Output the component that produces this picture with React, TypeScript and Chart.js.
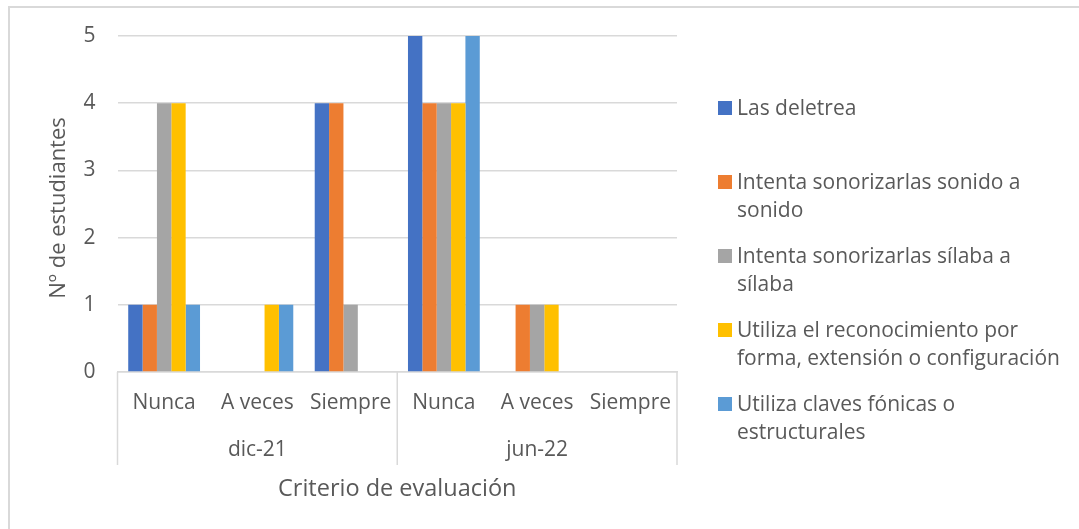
import React, { useEffect, useRef } from "react";
import { Chart, registerables } from "chart.js";

Chart.register(...registerables);

// ---- data ----
const groups = ["dic-21", "jun-22"];
const categories = ["Nunca", "A veces", "Siempre", "Nunca", "A veces", "Siempre"];
const seriesLabels = [
  "Las deletrea",
  "Intenta sonorizarlas sonido a sonido",
  "Intenta sonorizarlas sílaba a sílaba",
  "Utiliza el reconocimiento por forma, extensión o configuración",
  "Utiliza claves fónicas o estructurales",
];
const legendLines = [
  ["Las deletrea"],
  ["Intenta sonorizarlas sonido a", "sonido"],
  ["Intenta sonorizarlas sílaba a", "sílaba"],
  ["Utiliza el reconocimiento por", "forma, extensión o configuración"],
  ["Utiliza claves fónicas o", "estructurales"],
];
const lasDeletrea = [1, 0, 4, 5, 0, 0];
const sonidoASonido = [1, 0, 4, 4, 1, 0];
const silabaASilaba = [4, 0, 1, 4, 1, 0];
const reconocimientoForma = [4, 1, 0, 4, 1, 0];
const clavesFonicas = [1, 1, 0, 5, 0, 0];
const seriesValues = [lasDeletrea, sonidoASonido, silabaASilaba, reconocimientoForma, clavesFonicas];
const seriesColors = ["#4472C4", "#ED7D31", "#A5A5A5", "#FFC000", "#5B9BD5"];
const yMin = 0;
const yMax = 5;
const yStep = 1;
const xTitle = "Criterio de evaluación";
const yTitle = "Nº de estudiantes";

const FONT = "'Open Sans', 'Noto Sans', sans-serif";
const TEXT = "#595959";
const LINE = "#D9D9D9";

const decorPlugin = {
  id: "decor",
  afterDraw(chart: any) {
    const ctx = chart.ctx;
    const area = chart.chartArea;
    const xs = chart.scales.x;
    ctx.save();
    // outer frame (top + left)
    ctx.strokeStyle = LINE;
    ctx.lineWidth = 2;
    ctx.beginPath();
    ctx.moveTo(9, chart.height);
    ctx.lineTo(9, 7);
    ctx.lineTo(chart.width, 7);
    ctx.stroke();

    // category group separators
    const n = categories.length;
    const per = n / groups.length;
    const bounds: number[] = [xs.left];
    for (let g = 1; g < groups.length; g++) {
      bounds.push((xs.getPixelForValue(g * per - 1) + xs.getPixelForValue(g * per)) / 2);
    }
    bounds.push(xs.right);
    ctx.lineWidth = 1.5;
    ctx.strokeStyle = LINE;
    bounds.forEach((bx) => {
      ctx.beginPath();
      ctx.moveTo(bx, area.bottom);
      ctx.lineTo(bx, area.bottom + 93);
      ctx.stroke();
    });

    ctx.fillStyle = TEXT;
    ctx.textAlign = "center";
    ctx.textBaseline = "middle";
    ctx.font = `21px ${FONT}`;
    groups.forEach((g, i) => {
      ctx.fillText(g, (bounds[i] + bounds[i + 1]) / 2, area.bottom + 78);
    });

    // axis titles
    ctx.font = `23.5px ${FONT}`;
    ctx.fillText(xTitle, (area.left + area.right) / 2, area.bottom + 117);
    ctx.font = `22px ${FONT}`;
    ctx.save();
    ctx.translate(59, (area.top + area.bottom) / 2 + 4);
    ctx.rotate(-Math.PI / 2);
    ctx.fillText(yTitle, 0, 0);
    ctx.restore();

    // legend
    ctx.font = `21px ${FONT}`;
    ctx.textAlign = "left";
    const lx = area.right + 41;
    legendLines.forEach((lines, i) => {
      const cy = area.top + 72 + i * 74;
      ctx.fillStyle = seriesColors[i];
      ctx.fillRect(lx, cy - 7, 14, 14);
      ctx.fillStyle = TEXT;
      lines.forEach((t, j) => ctx.fillText(t, lx + 19, cy + 1.5 + j * 28));
    });
    ctx.restore();
  },
};

export default function App() {
  const ref = useRef<HTMLCanvasElement>(null);
  useEffect(() => {
    if (!ref.current) return;
    const chart = new Chart(ref.current, {
      type: "bar",
      data: {
        labels: categories,
        datasets: seriesValues.map((vals, i) => ({
          label: seriesLabels[i],
          data: vals,
          backgroundColor: seriesColors[i],
          borderWidth: 0,
          categoryPercentage: 0.77,
          barPercentage: 1.0,
        })),
      },
      options: {
        animation: false,
        responsive: true,
        maintainAspectRatio: false,
        layout: { padding: { left: 0, right: 402, top: 36, bottom: 0 } },
        plugins: { legend: { display: false }, tooltip: { enabled: false } },
        scales: {
          x: {
            grid: { display: false, drawTicks: false },
            border: { display: true, color: LINE, width: 1.5 },
            ticks: { color: TEXT, font: { family: FONT, size: 21 }, padding: 18, maxRotation: 0, autoSkip: false },
            afterFit: (s: any) => {
              s.height = 157;
            },
          },
          y: {
            min: yMin,
            max: yMax,
            grid: { color: LINE, lineWidth: 1.5, drawTicks: false },
            border: { display: false },
            ticks: { stepSize: yStep, color: TEXT, font: { family: FONT, size: 21 }, padding: 22 },
            afterFit: (s: any) => {
              s.width = 117.5;
            },
          },
        },
      },
      plugins: [decorPlugin],
    });
    return () => chart.destroy();
  }, []);
  return (
    <div style={{ position: "fixed", left: 0, top: 0, width: 1079, height: 529, background: "#fff" }}>
      <canvas ref={ref} />
    </div>
  );
}
